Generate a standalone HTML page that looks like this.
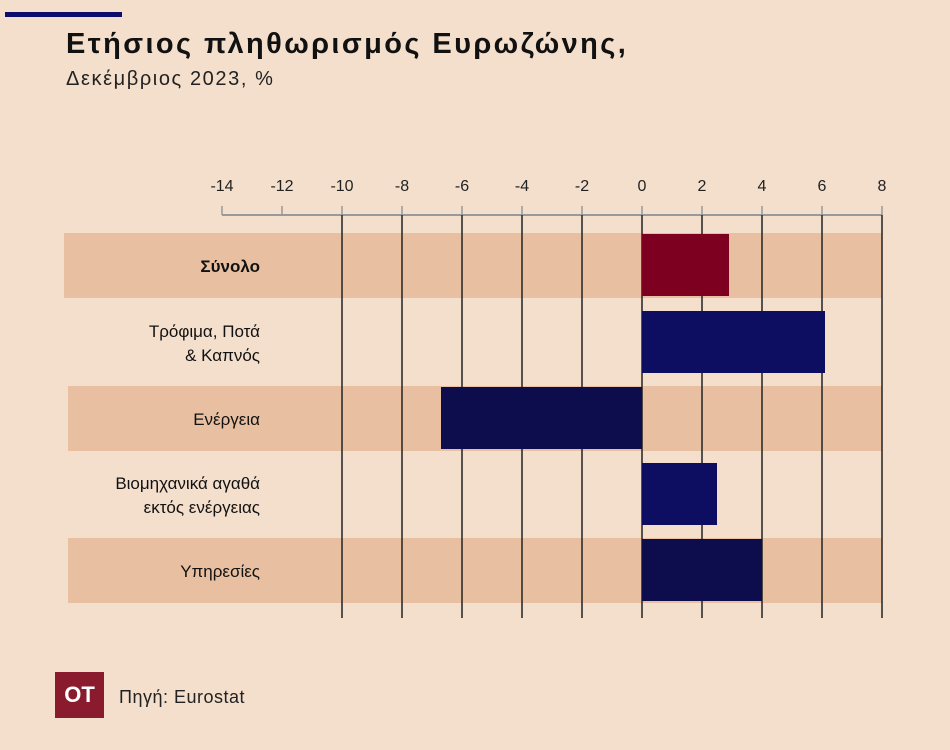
<!DOCTYPE html>
<html><head><meta charset="utf-8">
<style>
body{margin:0;width:950px;height:750px;background:#f3dfcc;font-family:"Liberation Sans","DejaVu Sans",sans-serif;overflow:hidden;position:relative}
.t{position:absolute;left:66px;top:28px;font-size:29px;font-weight:bold;color:#111;letter-spacing:2.4px;white-space:nowrap}
.s{position:absolute;left:66px;top:68px;font-size:20px;color:#222;letter-spacing:1.6px;white-space:nowrap}
.bar-top{position:absolute;left:5px;top:12px;width:117px;height:5px;background:#0d0d6e}
.logo{position:absolute;left:55px;top:672px;width:49px;height:46px;background:#8a1a2e;color:#fff;font-weight:bold;font-size:22px;text-align:center;line-height:46px}
.src{position:absolute;left:119px;top:687px;font-size:18px;color:#222;letter-spacing:0.5px}
</style></head><body>
<div class="bar-top"></div>
<div class="t">Ετήσιος πληθωρισμός Ευρωζώνης,</div>
<div class="s">Δεκέμβριος 2023, %</div>
<svg id="ch" width="950" height="750" style="position:absolute;left:0;top:0"></svg>
<div class="logo">OT</div>
<div class="src">Πηγή: Eurostat</div>
<script>
const categories=[["Σύνολο"],["Τρόφιμα, Ποτά","& Καπνός"],["Ενέργεια"],["Βιομηχανικά αγαθά","εκτός ενέργειας"],["Υπηρεσίες"]];
const values=[2.9,6.1,-6.7,2.5,4.0];
const ticks=[-14,-12,-10,-8,-6,-4,-2,0,2,4,6,8];
const colors=["#7d0020","#0d0d62","#0d0d4e","#0d0d62","#0d0d4e"];
const NS="http://www.w3.org/2000/svg";
const svg=document.getElementById('ch');
const x=v=>642+(v*30);
const rowTop=[233,310,386,462,538];
function mk(t,a){const e=document.createElementNS(NS,t);for(const k in a)e.setAttribute(k,a[k]);svg.appendChild(e);return e;}
[0,2,4].forEach(i=>{
  const r=mk('rect',{x:i==0?64:68,y:rowTop[i],width:882-(i==0?64:68),height:65,fill:'#e8c0a1'});
  
  
});
const ax=mk('line',{x1:x(-14),x2:x(8),y1:215,y2:215,stroke:'#999','stroke-width':2});


ticks.forEach(t=>{
  const tk=mk('line',{x1:x(t),x2:x(t),y1:206,y2:215,stroke:'#999','stroke-width':1.5});
  
  
  if(t>=-10){
    const g=mk('line',{x1:x(t),x2:x(t),y1:215,y2:618,stroke:'#222','stroke-width':1.5});
    
    
  }
  const tx=mk('text',{x:x(t),y:191,'text-anchor':'middle','font-size':16,fill:'#222'});
  tx.textContent=t;
  
  
});
values.forEach((v,i)=>{
  const x0=Math.min(x(0),x(v)),w=Math.abs(x(v)-x(0));
  const b=mk('rect',{x:x0,y:rowTop[i]+1,width:w,height:62,fill:colors[i]});
  
  
  const lines=categories[i];
  const cy=rowTop[i]+33;
  lines.forEach((l,j)=>{
    const tx=mk('text',{x:260,y:cy+6+(j-(lines.length-1)/2)*24,'text-anchor':'end','font-size':17,fill:'#111','font-weight':i==0?'bold':'normal'});
    tx.textContent=l;
    
    
  });
});
</script>
</body></html>
